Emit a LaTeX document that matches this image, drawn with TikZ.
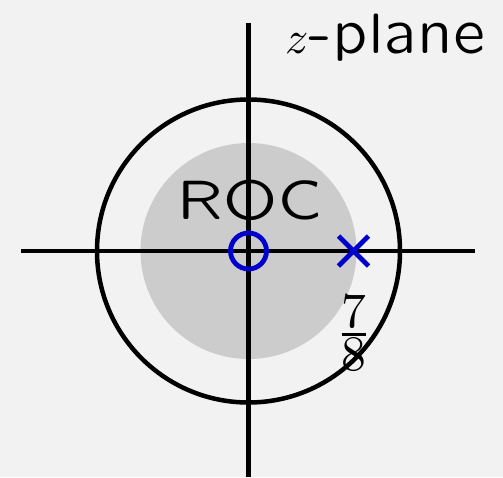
\RequirePackage{fix-cm}
\documentclass[tikz,border=0pt]{standalone}
\usepackage{fontspec}
\newfontfamily\quotsans{Latin Modern Sans Quotation}
\usetikzlibrary{calc}
\definecolor{bgcol}{HTML}{F2F2F2}
\definecolor{roccol}{HTML}{CCCCCC}
\definecolor{pzblue}{HTML}{0000CC}
\begin{document}
\begin{tikzpicture}[x=1pt,y=-1pt,
  axis/.style={line width=4.8pt},
  ucircle/.style={line width=4.5pt},
  zeromark/.style={draw=pzblue,line width=4.8pt},
  polemark/.style={draw=pzblue,line width=4.8pt},
  lbl/.style={inner sep=0pt,anchor=base}]
\fill[bgcol] (0,0) rectangle (503,477);
\useasboundingbox (0,0) rectangle (503,477);
\coordinate (O) at (248.5,251);
\fill[roccol] (O) circle[radius=108];
\draw[ucircle] (O) circle[radius=151.5];
\coordinate (xl) at (21,251);
\coordinate (xr) at (475,251);
\coordinate (yt) at (248.5,23);
\coordinate (yb) at (248.5,477);
\draw[axis] (xl) -- (xr);
\draw[axis] (yt) -- (yb);
\node[lbl] (roc) at (250,219) {\quotsans\fontsize{56}{60}\selectfont ROC};
\node[lbl,anchor=base west] (zp) at (285,53) {\scalebox{4.6}{$z$}\quotsans\fontsize{57}{60}\selectfont -plane};
\draw[zeromark] (O) circle[radius=18];
\coordinate (P) at (353.5,251);
\draw[polemark] ($(P)+(-15,-15)$) -- ($(P)+(15,15)$);
\draw[polemark] ($(P)+(-15,15)$) -- ($(P)+(15,-15)$);
\node[lbl] (frac) at (354,347) {\scalebox{4.96}{$\textstyle{\textstyle7\above0.55pt\textstyle8}$}};
\end{tikzpicture}
\end{document}
